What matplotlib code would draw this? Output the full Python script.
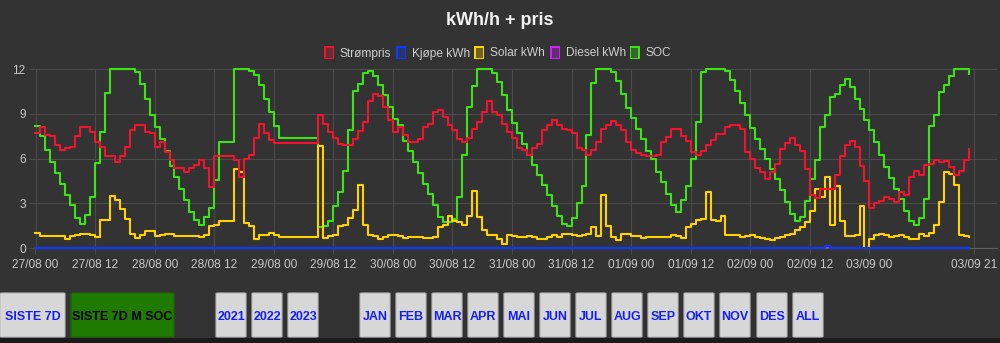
import matplotlib
matplotlib.use("Agg")
import matplotlib.pyplot as plt
import matplotlib.dates as mdates
from matplotlib.patches import Rectangle, FancyBboxPatch
import pandas as pd

plt.rcParams["font.family"] = ["Liberation Sans", "DejaVu Sans"]

# sample times, hours after 27/08 00 (no readings 29/08 02-08)
hours = list(range(0, 50)) + list(range(57, 189))

soc = [
    8.2, 7.5, 6.6, 5.8, 5.05, 4.3, 3.6, 2.9, 2.0, 1.65,
    2.2, 3.4, 5.7, 7.8, 10.4, 12, 12, 12, 12, 12,
    11.8, 11.0, 10.0, 8.9, 8.1, 7.3, 6.5, 5.5, 4.8, 4.0,
    3.2, 2.43, 1.87, 1.54, 2.1, 2.72, 4.55, 7.1, 7.1, 7.1,
    12, 12, 12, 11.85, 11.6, 10.9, 10.0, 9.1, 8.2, 7.4,
    # 29/08 09 ->
    1.4, 1.5, 1.8, 2.83, 3.75, 5.2, 7.9, 10.5, 11.0, 11.7,
    11.85, 11.5, 10.9, 10.25, 9.46, 8.64, 8.24, 7.2, 6.5, 5.78,
    5.06, 4.33, 3.66, 2.92, 2.1, 1.76, 1.76, 1.98, 3.43, 6.23,
    9.46, 10.87, 12, 12, 12, 11.75, 11.1, 10.25, 9.24, 8.4,
    7.7, 7.0, 6.23, 5.56, 4.9, 4.26, 3.55, 2.83, 2.16, 1.65,
    1.5, 2.0, 3.0, 4.15, 7.6, 11.07, 12, 12, 12, 11.8,
    11.2, 10.36, 9.4, 8.73, 8.0, 7.3, 6.5, 5.96, 5.1, 4.44,
    3.66, 2.92, 2.43, 3.2, 4.2, 5.96, 8.47, 11.77, 12, 12,
    12, 12, 11.85, 11.25, 10.5, 9.75, 8.95, 8.05, 7.3, 6.62,
    5.96, 5.28, 4.62, 3.88, 3.1, 2.32, 1.8, 2.1, 3.15, 4.66,
    5.9, 8.12, 8.9, 10.13, 10.3, 10.96, 11.3, 10.8, 10.0, 9.3,
    8.57, 7.9, 7.12, 6.27, 5.45, 4.71, 3.95, 3.28, 2.48, 1.8,
    1.54, 2.0, 3.3, 8.2, 8.9, 10.43, 10.9, 11.5, 12, 12,
    12, 11.65,
]

strompris = [
    7.7, 8.1, 7.6, 7.5, 6.9, 6.6, 6.7, 6.8, 7.5, 8.1,
    8.1, 7.8, 7.1, 6.8, 6.15, 6.2, 5.8, 6.2, 6.8, 7.9,
    8.25, 8.25, 7.8, 7.7, 6.8, 7.1, 6.45, 5.9, 5.35, 5.35,
    5.1, 5.35, 5.55, 5.9, 5.4, 4.1, 6.15, 6.15, 6.15, 6.15,
    5.9, 4.75, 6.0, 6.25, 7.35, 8.35, 7.7, 7.25, 7.05, 7.05,
    8.95, 8.35, 7.8, 7.4, 7.0, 6.9, 6.9, 7.3, 7.83, 8.46,
    9.84, 10.3, 10.17, 9.46, 8.57, 7.8, 8.13, 7.6, 7.12, 7.12,
    7.3, 8.13, 8.35, 9.13, 9.24, 8.8, 8.24, 7.9, 7.3, 7.12,
    7.4, 8.0, 8.46, 9.13, 9.84, 9.13, 8.9, 8.35, 7.8, 7.35,
    6.7, 6.6, 6.23, 6.7, 7.0, 7.9, 8.25, 8.57, 8.24, 8.0,
    7.9, 7.7, 6.7, 6.55, 6.27, 6.56, 7.12, 8.0, 8.24, 8.5,
    8.24, 7.9, 7.12, 6.6, 6.35, 6.25, 6.15, 6.15, 6.23, 7.12,
    7.45, 8.0, 8.0, 7.5, 7.15, 6.45, 6.27, 6.5, 6.9, 7.23,
    7.67, 7.67, 8.12, 8.28, 8.28, 8.0, 6.45, 5.96, 5.38, 5.1,
    4.66, 5.1, 5.67, 6.62, 7.07, 7.35, 6.9, 6.5, 5.33, 3.6,
    3.37, 4.0, 4.0, 4.0, 4.9, 6.16, 6.9, 7.16, 6.78, 5.5,
    4.48, 2.72, 3.0, 3.15, 3.44, 3.28, 3.1, 3.8, 3.55, 4.78,
    5.15, 4.9, 5.56, 5.67, 5.9, 5.78, 5.82, 5.45, 4.9, 5.2,
    5.9, 6.62,
]

solar = [
    1.0, 0.8, 0.8, 0.8, 0.8, 0.8, 0.65, 0.82, 0.9, 0.95,
    0.95, 0.92, 0.78, 1.87, 1.87, 3.48, 3.26, 2.65, 1.98, 0.98,
    0.71, 0.87, 1.14, 1.14, 0.8, 0.9, 0.95, 0.95, 0.8, 0.82,
    0.8, 0.8, 0.82, 0.75, 0.9, 1.5, 1.58, 1.8, 1.8, 1.8,
    5.33, 5.1, 1.7, 1.5, 0.64, 0.9, 0.9, 1.0, 0.87, 0.78,
    6.85, 0.7, 0.82, 0.9, 1.47, 1.54, 2.0, 2.55, 4.22, 1.54,
    0.9, 0.82, 0.6, 0.76, 0.87, 0.87, 0.82, 0.69, 0.76, 0.76,
    0.76, 0.69, 0.69, 0.76, 1.43, 1.58, 2.16, 1.8, 1.76, 1.58,
    2.16, 3.82, 2.1, 1.2, 0.87, 0.87, 0.64, 0.31, 0.9, 0.82,
    0.76, 0.76, 0.82, 0.76, 0.64, 0.6, 0.76, 0.87, 0.76, 0.93,
    0.93, 0.87, 0.82, 0.87, 0.98, 1.43, 0.82, 3.55, 1.5, 0.76,
    0.53, 0.93, 0.93, 0.82, 0.82, 0.7, 0.76, 0.76, 0.76, 0.76,
    0.76, 0.87, 0.82, 0.69, 1.43, 1.65, 1.87, 1.94, 3.77, 1.87,
    1.8, 2.16, 0.9, 0.87, 0.87, 0.76, 0.82, 0.87, 0.76, 0.69,
    0.64, 0.58, 0.69, 0.76, 0.87, 0.93, 1.2, 1.43, 1.76, 2.5,
    4.0, 3.4, 4.77, 1.54, 4.17, 1.8, 0.82, 0.82, 0.9, 2.83,
    0.05, 0.64, 0.87, 0.98, 0.87, 0.76, 0.82, 0.87, 0.76, 0.64,
    0.6, 0.98, 0.82, 1.05, 1.54, 3.1, 5.1, 5.0, 4.26, 0.9,
    0.82, 0.75,
]

kjope = [
    0.03, 0.03, 0.03, 0.03, 0.03, 0.03, 0.03, 0.03, 0.03, 0.03,
    0.03, 0.03, 0.04, 0.05, 0.04, 0.05, 0.04, 0.04, 0.05, 0.04,
    0.04, 0.05, 0.03, 0.03, 0.03, 0.03, 0.03, 0.03, 0.03, 0.03,
    0.03, 0.03, 0.03, 0.03, 0.03, 0.03, 0.03, 0.03, 0.03, 0.03,
    0.03, 0.03, 0.03, 0.03, 0.03, 0.03, 0.03, 0.03, 0.03, 0.03,
    0.03, 0.03, 0.04, 0.04, 0.04, 0.04, 0.05, 0.04, 0.04, 0.04,
    0.04, 0.05, 0.04, 0.04, 0.04, 0.04, 0.04, 0.04, 0.04, 0.04,
    0.04, 0.04, 0.04, 0.04, 0.04, 0.04, 0.04, 0.05, 0.04, 0.04,
    0.04, 0.05, 0.04, 0.03, 0.03, 0.03, 0.03, 0.03, 0.03, 0.03,
    0.03, 0.03, 0.03, 0.03, 0.03, 0.03, 0.03, 0.03, 0.03, 0.03,
    0.03, 0.03, 0.03, 0.03, 0.03, 0.04, 0.03, 0.04, 0.03, 0.03,
    0.03, 0.03, 0.03, 0.03, 0.03, 0.03, 0.03, 0.03, 0.03, 0.03,
    0.03, 0.03, 0.03, 0.03, 0.03, 0.03, 0.03, 0.03, 0.03, 0.03,
    0.03, 0.03, 0.03, 0.03, 0.03, 0.03, 0.03, 0.03, 0.03, 0.03,
    0.03, 0.03, 0.03, 0.03, 0.03, 0.03, 0.04, 0.03, 0.03, 0.03,
    0.03, 0.03, 0.15, 0.03, 0.03, 0.03, 0.04, 0.03, 0.03, 0.03,
    0.03, 0.03, 0.03, 0.03, 0.03, 0.03, 0.03, 0.03, 0.03, 0.03,
    0.03, 0.03, 0.03, 0.03, 0.03, 0.03, 0.03, 0.03, 0.03, 0.03,
    0.03, 0.03,
]

diesel = [0.0] * 152 + [0.1] + [0.0] * 29

labels = ["Strømpris", "Kjøpe kWh", "Solar kWh", "Diesel kWh", "SOC"]
colors = ["#f0142f", "#0a3cff", "#ffd200", "#d21eff", "#3ee216"]
buttons = ["SISTE 7D", "SISTE 7D M SOC", "2021", "2022", "2023",
           "JAN", "FEB", "MAR", "APR", "MAI", "JUN", "JUL", "AUG",
           "SEP", "OKT", "NOV", "DES", "ALL"]

BG = "#333333"
W, H = 1000, 343
start = pd.Timestamp("2023-08-27 00:00")
t = start + pd.to_timedelta(hours, unit="h")

fig = plt.figure(figsize=(W / 100, H / 100), dpi=100, facecolor=BG)
ax = fig.add_axes([35.5 / W, 1 - 248.3 / H, 961.5 / W, 179.3 / H])
ax.set_facecolor(BG)

data = [strompris, kjope, solar, diesel, soc]
# first dataset is drawn on top, like chart.js
for i, (vals, col) in enumerate(zip(data, colors)):
    ax.plot(t, vals, drawstyle="steps-post", color=col, lw=1.5,
            zorder=10 - i, clip_on=False)

ax.set_ylim(0, 12)
ax.set_yticks([0, 3, 6, 9, 12])
ax.set_xlim(start, start + pd.Timedelta(hours=193.7))
xt = [start + pd.Timedelta(hours=h) for h in list(range(0, 169, 12)) + [189]]
ax.set_xticks(xt)
ax.xaxis.set_major_formatter(mdates.DateFormatter("%d/%m %H"))

ax.grid(True, color="#4b4b4b", lw=0.8)
ax.set_axisbelow(True)
for s in ["top", "right"]:
    ax.spines[s].set_visible(False)
ax.spines["left"].set_color("#4b4b4b")
ax.spines["bottom"].set_color("#5e5e5e")
ax.tick_params(axis="y", length=5, width=0.8, color="#4b4b4b", pad=2,
               labelcolor="#c8c8c8", labelsize=8.6)
ax.tick_params(axis="x", length=4, width=0.8, color="#4b4b4b", pad=4,
               labelcolor="#c8c8c8", labelsize=8.6)

fig.text(0.5, 1 - 25 / H, "kWh/h + pris", ha="center", va="baseline",
         fontsize=13, fontweight="bold", color="#f2f2f2")

# legend
box_x = [324, 396, 474, 550, 629.5]
for bx, lab, col in zip(box_x, labels, colors):
    fig.patches.append(Rectangle((bx / W, 1 - 59 / H), 10 / W, 13 / H,
                                 transform=fig.transFigure, facecolor=col,
                                 alpha=1, edgecolor="none"))
    fig.patches.append(Rectangle(((bx + 1.5) / W, 1 - 57.5 / H), 7 / W, 10 / H,
                                 transform=fig.transFigure, facecolor=col,
                                 edgecolor="none", alpha=0.25))
    fig.patches.append(Rectangle(((bx + 1.5) / W, 1 - 57.5 / H), 7 / W, 10 / H,
                                 transform=fig.transFigure, facecolor=BG,
                                 edgecolor="none", alpha=0.7))
    fig.text((bx + 16) / W, 1 - 56.5 / H, lab, ha="left", va="baseline",
             fontsize=8.6, color="#cfcfcf")

# buttons
btn_x = [0, 71, 216, 252, 288, 360, 396, 432, 468, 504, 540, 576, 612,
         648, 684, 720, 757, 793]
btn_w = [65, 103] + [30] * 16
for bx, bw, lab in zip(btn_x, btn_w, buttons):
    green = lab == "SISTE 7D M SOC"
    fig.patches.append(FancyBboxPatch((bx / W, 1 - 337 / H), bw / W, 44 / H,
                                      boxstyle="round,pad=0,rounding_size=0.002",
                                      transform=fig.transFigure,
                                      facecolor="#1e7a00" if green else "#d7d7d7",
                                      edgecolor="#1a6a00" if green else "#bcbcbc",
                                      lw=0.8))
    fig.text((bx + bw / 2) / W, 1 - 320.5 / H, lab, ha="center", va="baseline",
             fontsize=9, fontweight="bold",
             color="#000000" if green else "#1420f0")

fig.patches.append(Rectangle((0, 0), 1, 5.5 / H, transform=fig.transFigure,
                             facecolor="#1b1b1b", edgecolor="none"))

fig.savefig("out.png", dpi=100, facecolor=BG)
